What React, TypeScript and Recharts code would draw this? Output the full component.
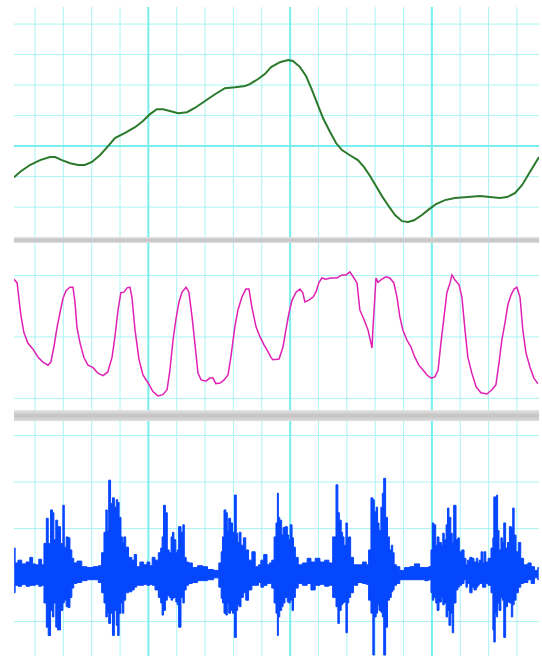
import { LineChart, AreaChart, Line, Area, XAxis, YAxis, CartesianGrid } from "recharts"

// shared time grid (grid units, one minor division per unit)
const timeDomain = [-0.74, 17.78]
const timeTicks = [0, 1, 2, 3, 4, 5, 6, 7, 8, 9, 10, 11, 12, 13, 14, 15, 16, 17]
const timeMajor = [4, 9, 14]

// top trace (green)
const greenTime = [
  -0.74, -0.53, -0.18, 0.18, 0.53, 0.71, 0.95, 1.24, 1.52, 1.76,
  2.01, 2.29, 2.58, 2.82, 3.18, 3.53, 3.81, 4.06, 4.3, 4.52,
  4.76, 5.05, 5.36, 5.64, 6.0, 6.35, 6.7, 7.06, 7.41, 7.58,
  7.87, 8.11, 8.33, 8.64, 8.93, 9.1, 9.35, 9.56, 9.77, 9.98,
  10.16, 10.41, 10.62, 10.83, 11.11, 11.39, 11.61, 11.82, 12.03, 12.24,
  12.45, 12.7, 12.95, 13.16, 13.37, 13.65, 13.86, 14.15, 14.46, 14.82,
  15.27, 15.7, 16.05, 16.4, 16.65, 16.93, 17.18, 17.46, 17.78,
]
const greenValue = [
  -1.02, -0.85, -0.62, -0.46, -0.36, -0.36, -0.46, -0.56, -0.62, -0.62,
  -0.52, -0.3, 0, 0.26, 0.43, 0.62, 0.82, 1.05, 1.21, 1.21,
  1.15, 1.08, 1.11, 1.25, 1.48, 1.7, 1.9, 1.93, 1.97, 2.03,
  2.2, 2.36, 2.59, 2.75, 2.82, 2.79, 2.59, 2.3, 1.84, 1.34,
  0.92, 0.46, 0.1, -0.13, -0.3, -0.46, -0.69, -0.98, -1.31, -1.64,
  -1.93, -2.26, -2.46, -2.49, -2.43, -2.26, -2.1, -1.9, -1.77, -1.7,
  -1.67, -1.64, -1.67, -1.7, -1.67, -1.54, -1.28, -0.85, -0.36,
]
const greenDomain = [-2.98, 4.56]
const greenTicks = [-2, -1, 0, 1, 2, 3, 4]
const greenMajor = [0]

// middle trace (magenta)
const pinkTime = [
  -0.74, -0.63, -0.56, -0.49, -0.39, -0.25, -0.07, 0.11, 0.28, 0.46,
  0.56, 0.67, 0.78, 0.88, 0.99, 1.09, 1.23, 1.34, 1.41, 1.48,
  1.59, 1.73, 1.87, 2.05, 2.22, 2.4, 2.57, 2.72, 2.82, 2.93,
  3.03, 3.14, 3.25, 3.35, 3.42, 3.53, 3.67, 3.81, 3.99, 4.16,
  4.34, 4.51, 4.66, 4.76, 4.87, 4.97, 5.08, 5.19, 5.33, 5.43,
  5.54, 5.64, 5.75, 5.86, 6.03, 6.17, 6.28, 6.38, 6.53, 6.67,
  6.81, 6.91, 7.05, 7.16, 7.3, 7.44, 7.55, 7.65, 7.8, 7.94,
  8.08, 8.22, 8.32,
  8.39, 8.61, 8.75, 8.85, 8.96, 9.07, 9.21, 9.35, 9.45, 9.52,
  9.66, 9.81, 9.91, 10.02, 10.12, 10.26, 10.44, 10.65, 10.83, 10.97,
  11.11, 11.25, 11.36, 11.46, 11.61, 11.75, 11.89, 11.92, 12.03, 12.1,
  12.24, 12.38, 12.52, 12.66, 12.77, 12.87, 12.98, 13.12, 13.26, 13.4,
  13.54, 13.69, 13.83, 13.97, 14.11, 14.22, 14.32, 14.43, 14.53, 14.64,
  14.71, 14.81, 14.96, 15.06, 15.17, 15.27, 15.41, 15.56, 15.73, 15.94,
  16.12, 16.26, 16.37, 16.47, 16.58, 16.68, 16.79, 16.9, 17.0, 17.11,
  17.21, 17.32, 17.46, 17.6, 17.74,
]
const pinkValue = [
  0.94, 0.88, 0.6, 0.33, 0.07, -0.1, -0.2, -0.33, -0.41, -0.46,
  -0.41, -0.16, 0.16, 0.39, 0.63, 0.75, 0.81, 0.81, 0.57, 0.16,
  -0.1, -0.34, -0.46, -0.5, -0.59, -0.63, -0.57, -0.33, 0, 0.44,
  0.72, 0.73, 0.8, 0.81, 0.65, 0.11, -0.37, -0.62, -0.75, -0.89,
  -0.96, -0.94, -0.86, -0.54, -0.05, 0.28, 0.57, 0.73, 0.81, 0.73,
  0.33, -0.1, -0.59, -0.7, -0.72, -0.67, -0.67, -0.76, -0.75, -0.7,
  -0.62, -0.33, 0.16, 0.44, 0.65, 0.78, 0.78, 0.49, 0.16, 0,
  -0.13, -0.24, -0.33,
  -0.37, -0.36, -0.16, 0.11, 0.39, 0.6, 0.73, 0.78, 0.72, 0.57,
  0.6, 0.65, 0.73, 0.89, 0.96, 0.94, 0.96, 0.96, 1.01, 1.01,
  1.06, 0.96, 0.88, 0.44, 0.28, 0.11, -0.18, 0.11, 0.96, 0.89,
  0.94, 0.98, 0.96, 0.88, 0.65, 0.33, 0.11, -0.05, -0.16, -0.33,
  -0.46, -0.54, -0.62, -0.67, -0.65, -0.54, -0.1, 0.33, 0.72, 0.88,
  1.01, 0.93, 0.85, 0.65, 0.11, -0.33, -0.59, -0.81, -0.91, -0.93,
  -0.86, -0.78, -0.42, -0.05, 0.23, 0.52, 0.68, 0.78, 0.81, 0.65,
  0.11, -0.26, -0.49, -0.67, -0.76,
]
const pinkDomain = [-1.19, 1.53]
const pinkTicks = [-1, 0, 1]

// bottom trace (blue): sample index, peak high / peak low per column
const blueSample = [
  -22, -20, -16, -12, -7, -4, -1, 2, 6, 8,
  11, 13, 15, 18, 19, 21, 23, 25, 29, 30,
  32, 34, 36, 38, 40, 42, 47, 52, 58, 65,
  69, 72, 74, 76, 77, 79, 81, 83, 85, 87,
  88, 90, 92, 93, 95, 97, 101, 104, 106, 109,
  113, 117, 120, 123, 125, 129, 132, 134, 135, 137,
  139, 141, 143, 145, 146, 148, 150, 151, 153, 156,
  157, 159, 161, 164, 169, 175, 180, 185, 193, 196,
  198, 199, 201, 203, 204, 206, 208, 210, 212, 214,
  215, 217, 219, 222, 224, 228, 231, 235, 238, 240,
  244, 247, 249, 252, 254, 256, 257, 258, 260, 262,
  263, 266, 268, 269, 271, 273, 274, 277, 280, 286,
  290, 294, 299, 304, 309, 313, 317, 320, 321, 323,
  325, 326, 328, 330, 331, 333, 335, 339, 344, 349,
  352, 354, 357, 358, 360, 362, 363, 365, 367, 368,
  370, 372, 374, 376, 378, 379, 381, 384, 388, 394,
  399, 404, 410, 415, 418, 420, 421, 423, 425, 426,
  429, 431, 432, 434, 436, 437, 439, 441, 442, 444,
  447, 448, 450, 453, 455, 457, 458, 462, 463, 466,
  468, 469, 471, 473, 474, 476, 478, 481, 484, 485,
  486, 488, 489, 490, 492, 494, 495, 497, 499, 501,
  503, 505, 506, 508, 510, 513, 515, 519, 524, 526,
  531, 533,
]
const blueHigh = [
  29, 13, 16, 12, 14, 19, 12, 11, 17, 11,
  34, 61, 34, 70, 67, 38, 59, 52, 34, 75,
  30, 41, 40, 27, 18, 13, 15, 9, 8, 9,
  10, 24, 46, 70, 48, 102, 77, 83, 73, 81,
  78, 62, 41, 35, 41, 30, 19, 16, 22, 9,
  14, 11, 14, 10, 19, 16, 24, 29, 41, 75,
  67, 27, 24, 41, 46, 38, 24, 27, 52, 46,
  54, 19, 14, 13, 8, 10, 9, 6, 5, 13,
  25, 41, 70, 67, 48, 61, 56, 46, 86, 45,
  35, 46, 32, 40, 27, 16, 25, 9, 11, 16,
  22, 11, 13, 16, 41, 56, 88, 62, 59, 43,
  51, 52, 43, 38, 54, 40, 30, 19, 11, 13,
  18, 14, 18, 14, 16, 13, 41, 97, 67, 59,
  46, 41, 32, 56, 40, 41, 19, 11, 11, 14,
  11, 27, 83, 81, 68, 73, 56, 48, 73, 88,
  104, 62, 41, 27, 32, 24, 11, 9, 5, 8,
  9, 12, 8, 8, 9, 27, 56, 54, 32, 41,
  35, 32, 45, 38, 54, 72, 62, 45, 35, 75,
  38, 40, 25, 27, 18, 11, 16, 19, 18, 14,
  18, 13, 16, 25, 13, 25, 14, 18, 29, 40,
  84, 84, 86, 48, 27, 40, 35, 56, 29, 35,
  52, 51, 72, 43, 25, 35, 18, 11, 13, 9,
  5, 8,
]
const blueLow = [
  -19, -11, -12, -10, -12, -11, -11, -10, -12, -11,
  -30, -56, -65, -38, -45, -30, -56, -59, -38, -30,
  -27, -34, -35, -24, -14, -9, -8, -6, -5, -5,
  -8, -19, -30, -45, -41, -52, -41, -65, -38, -54,
  -65, -41, -30, -41, -27, -19, -18, -16, -13, -11,
  -11, -10, -11, -10, -11, -16, -24, -30, -43, -38,
  -27, -22, -24, -27, -25, -24, -29, -32, -56, -24,
  -30, -16, -11, -9, -8, -6, -6, -5, -3, -13,
  -25, -30, -41, -43, -30, -41, -38, -41, -67, -38,
  -32, -34, -24, -19, -27, -16, -11, -11, -8, -13,
  -11, -9, -9, -14, -30, -41, -65, -45, -38, -34,
  -30, -24, -29, -30, -27, -38, -24, -14, -9, -11,
  -9, -16, -11, -10, -12, -11, -24, -34, -52, -38,
  -32, -30, -29, -62, -30, -24, -19, -11, -8, -9,
  -10, -27, -41, -86, -45, -41, -32, -38, -40, -45,
  -86, -56, -27, -24, -18, -16, -11, -9, -5, -5,
  -5, -5, -5, -6, -5, -19, -27, -24, -30, -38,
  -29, -24, -32, -30, -45, -38, -54, -41, -62, -30,
  -16, -13, -11, -9, -5, -13, -9, -19, -13, -16,
  -13, -11, -9, -9, -13, -13, -9, -11, -19, -59,
  -72, -41, -45, -30, -38, -24, -27, -67, -34, -29,
  -30, -45, -32, -27, -19, -13, -9, -8, -5, -9,
  -3, -5,
]
const sampleDomain = [-22.2, 533.3]
const sampleTicks = [0, 30, 60, 90, 120, 150, 180, 210, 240, 270, 300, 330, 360, 390, 420, 450, 480, 510]
const sampleMajor = [120, 270, 420]
const blueDomain = [-87, 165.6]
const blueTicks = [-50, 0, 50, 100, 150]

const greenData = greenTime.map((t, i) => ({ t, v: greenValue[i] }))
const pinkData = pinkTime.map((t, i) => ({ t, v: pinkValue[i] }))
const blueData = blueSample.map((s, i) => ({ s, band: [blueLow[i], blueHigh[i]] }))

const minor = "#aaf4f4"
const major = "#78eeee"
const noMargin = { top: 0, right: 0, bottom: 0, left: 0 }

// grid line positions go through the axis scale; linear fallback on the same domain
const xLines = (values: number[], domain: number[]) => (props: any) => {
  const scale = props?.xAxis?.scale
  const o = props.offset
  return values.map((v) =>
    typeof scale === "function" ? scale(v) : o.left + ((v - domain[0]) / (domain[1] - domain[0])) * o.width
  )
}
const yLines = (values: number[], domain: number[]) => (props: any) => {
  const scale = props?.yAxis?.scale
  const o = props.offset
  return values.map((v) =>
    typeof scale === "function" ? scale(v) : o.top + ((domain[1] - v) / (domain[1] - domain[0])) * o.height
  )
}

const panel = (top: number, height: number): React.CSSProperties => ({
  position: "absolute",
  left: 14,
  top,
  width: 525,
  height,
})

const divider = (top: number, height: number): React.CSSProperties => ({
  position: "absolute",
  left: 14,
  top,
  width: 525,
  height,
  background: "linear-gradient(#e6e6e6, #c6c6c6 45%, #c6c6c6 60%, #dedede)",
})

export default function App() {
  return (
    <div style={{ position: "absolute", left: 0, top: 0, width: 542, height: 656, background: "#fff", overflow: "hidden" }}>
      <div style={panel(7, 230)}>
        <LineChart width={525} height={230} data={greenData} margin={noMargin}>
          <CartesianGrid
            stroke={minor}
            verticalCoordinatesGenerator={xLines(timeTicks, timeDomain)}
            horizontalCoordinatesGenerator={yLines(greenTicks, greenDomain)}
          />
          <CartesianGrid
            stroke={major}
            strokeWidth={2}
            verticalCoordinatesGenerator={xLines(timeMajor, timeDomain)}
            horizontalCoordinatesGenerator={yLines(greenMajor, greenDomain)}
          />
          <XAxis type="number" dataKey="t" domain={timeDomain} allowDataOverflow hide />
          <YAxis type="number" domain={greenDomain} allowDataOverflow hide />
          <Line type="linear" dataKey="v" stroke="#2b7a2b" strokeWidth={2} dot={false} isAnimationActive={false} />
        </LineChart>
      </div>
      <div style={divider(237, 6)} />
      <div style={panel(243, 167)}>
        <LineChart width={525} height={167} data={pinkData} margin={noMargin}>
          <CartesianGrid
            stroke={minor}
            verticalCoordinatesGenerator={xLines(timeTicks, timeDomain)}
            horizontalCoordinatesGenerator={yLines(pinkTicks, pinkDomain)}
          />
          <CartesianGrid
            stroke={major}
            strokeWidth={2}
            horizontal={false}
            verticalCoordinatesGenerator={xLines(timeMajor, timeDomain)}
          />
          <XAxis type="number" dataKey="t" domain={timeDomain} allowDataOverflow hide />
          <YAxis type="number" domain={pinkDomain} allowDataOverflow hide />
          <Line type="linear" dataKey="v" stroke="#e020b4" strokeWidth={1.5} dot={false} isAnimationActive={false} />
        </LineChart>
      </div>
      <div style={divider(410, 11)} />
      <div style={panel(421, 235)}>
        <AreaChart width={525} height={235} data={blueData} margin={noMargin}>
          <CartesianGrid
            stroke={minor}
            verticalCoordinatesGenerator={xLines(sampleTicks, sampleDomain)}
            horizontalCoordinatesGenerator={yLines(blueTicks, blueDomain)}
          />
          <CartesianGrid
            stroke={major}
            strokeWidth={2}
            horizontal={false}
            verticalCoordinatesGenerator={xLines(sampleMajor, sampleDomain)}
          />
          <XAxis type="number" dataKey="s" domain={sampleDomain} allowDataOverflow hide />
          <YAxis type="number" domain={blueDomain} allowDataOverflow hide />
          <Area
            type="step"
            dataKey="band"
            stroke="#0546ff"
            strokeWidth={1}
            fill="#0546ff"
            fillOpacity={1}
            dot={false}
            activeDot={false}
            isAnimationActive={false}
          />
        </AreaChart>
      </div>
    </div>
  )
}
